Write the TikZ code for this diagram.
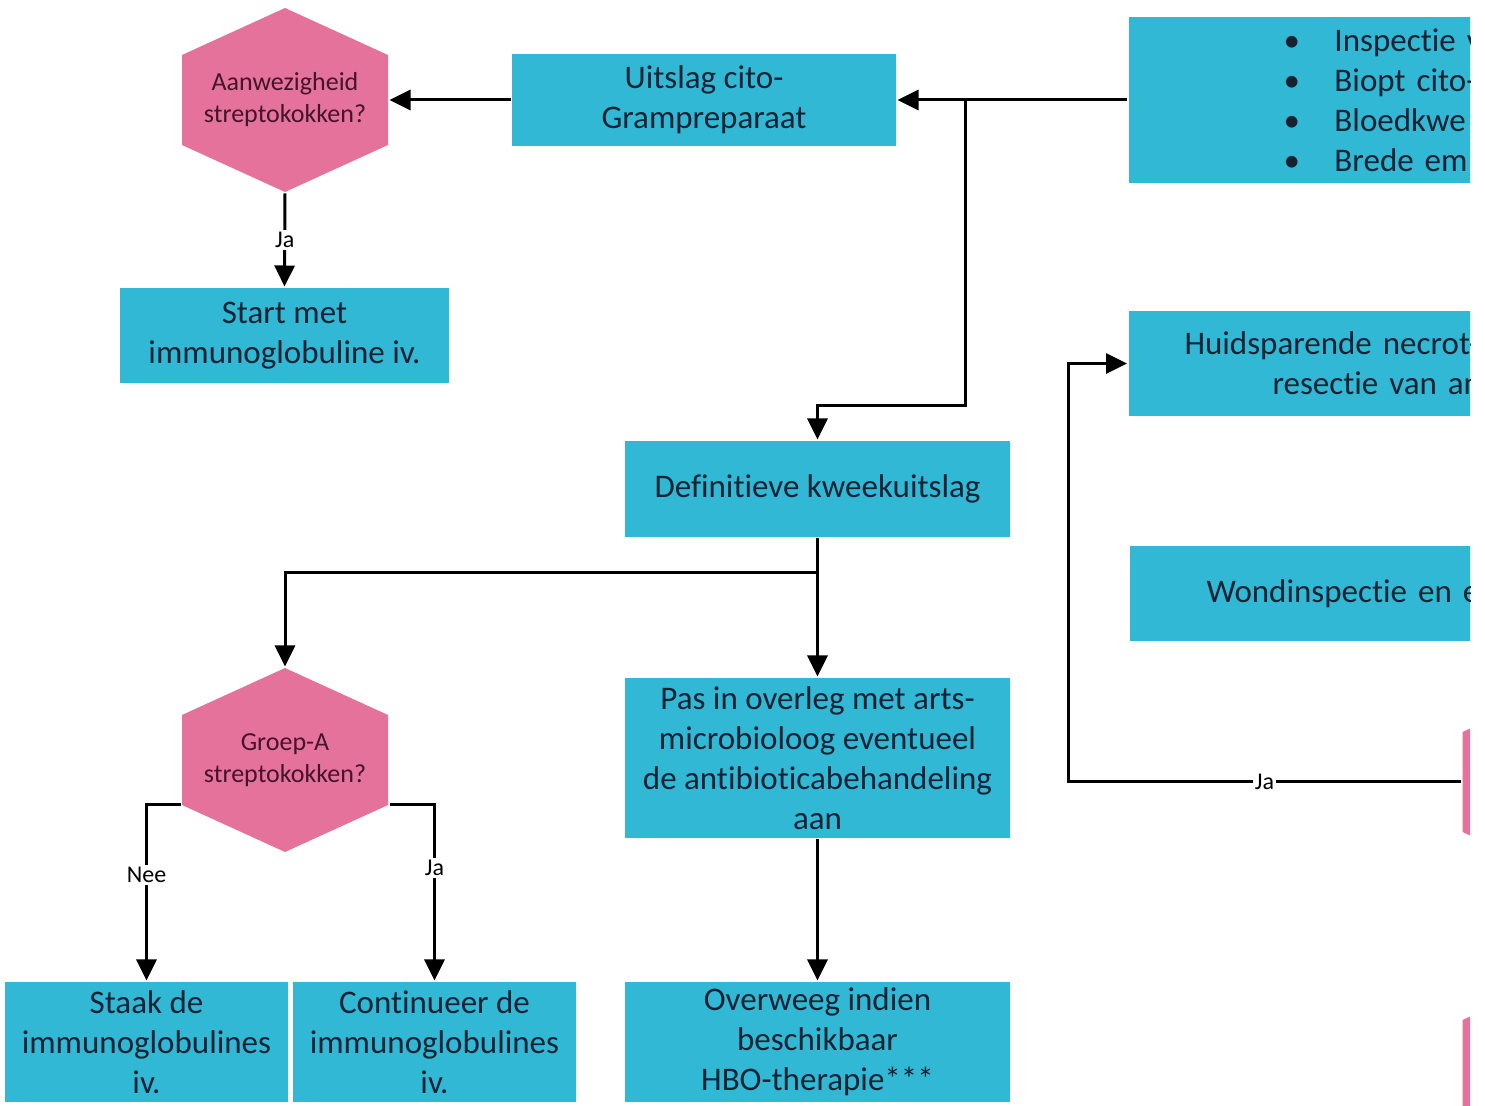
\documentclass[tikz,border=0pt]{standalone}
\usepackage{fontspec}
\setmainfont{Carlito}[Ligatures=NoCommon]
\usetikzlibrary{arrows.meta}
\definecolor{cyaan}{RGB}{49,184,212}
\definecolor{roze}{RGB}{229,114,155}
\definecolor{boxtekst}{RGB}{20,34,52}
\definecolor{hextekst}{RGB}{68,20,40}

\begin{document}
\begin{tikzpicture}[x=0.5pt,y=-0.5pt,>={Triangle[length=10.5pt,width=10pt]},line width=1.5pt]

	\tikzstyle{stap}=[rectangle,fill=cyaan,text=boxtekst,align=center,inner sep=0pt,font=\fontsize{16.5}{20}\selectfont]
	\tikzstyle{stapclip}=[stap,anchor=west,align=left,text width=260pt]
	\tikzstyle{keuze}=[rectangle,inner sep=0pt,minimum width=103pt,minimum height=92pt,align=center,text=hextekst,font=\fontsize{13}{16}\selectfont,
		path picture={\fill[roze] (path picture bounding box.north) -- ([yshift=-23.5pt]path picture bounding box.north east) -- ([yshift=23.5pt]path picture bounding box.south east) -- (path picture bounding box.south) -- ([yshift=23.5pt]path picture bounding box.south west) -- ([yshift=-23.5pt]path picture bounding box.north west) -- cycle;}]
	\tikzstyle{lbl}=[fill=white,inner sep=1pt,text=black,font=\fontsize{12}{14}\selectfont]

	\useasboundingbox (0,0) rectangle (1485,1106);

	\node[keuze] (aanw) at (285,100) {Aanwezigheid\\streptokokken?};
	\node[stap,minimum width=192pt,minimum height=46pt] (uitslag) at (704,100) {Uitslag cito-\\Grampreparaat};
	\node[stap,minimum width=164.5pt,minimum height=47.5pt] (start) at (284.5,335.5) {Start met\\immunoglobuline iv.};

	\node[stap,minimum width=192.5pt,minimum height=48pt] (kweek) at (817.5,489) {Definitieve kweekuitslag};
	\node[keuze] (groepA) at (285,760) {Groep-A\\streptokokken?};
	\node[stap,minimum width=192.5pt,minimum height=80pt] (pas) at (817.5,758) {Pas in overleg met arts-\\microbioloog eventueel\\de antibioticabehandeling\\aan};

	\node[stap,minimum width=141.5pt,minimum height=60pt] (staak) at (146.5,1042) {Staak de\\immunoglobulines\\iv.};
	\node[stap,minimum width=141.5pt,minimum height=60pt] (cont) at (434.5,1042) {Continueer de\\immunoglobulines\\iv.};
	\node[stap,minimum width=192.5pt,minimum height=60pt] (overweeg) at (817.5,1042) {Overweeg indien\\beschikbaar\\HBO-therapie***};

	% rechterkolom, afgesneden aan de rand
	\begin{scope}
	\clip (0,0) rectangle (1470,1106);
	\node[stapclip,inner xsep=77.5pt,minimum height=83pt] (bullets) at (1127,100)
		{\makebox[25.5pt][l]{\textbullet}Inspectie v\\\makebox[25.5pt][l]{\textbullet}Biopt cito-\\\makebox[25.5pt][l]{\textbullet}Bloedkwe\\\makebox[25.5pt][l]{\textbullet}Brede em};
	\node[stapclip,inner xsep=28pt,minimum height=52.5pt] (huid) at (1127,363.5) {Huidsparende necrot-\\\hspace*{44pt}resectie van an};
	\node[stapclip,inner xsep=38.5pt,minimum height=47.5pt] (wond) at (1128,593.5) {Wondinspectie en e};
	\node[keuze,anchor=west,minimum height=97pt] (rozeA) at (1461,782) {};
	\node[keuze,anchor=west,minimum height=97pt] (rozeB) at (1461,1070) {};
	\end{scope}

	\coordinate (splits) at (965,100);
	\coordinate (knik) at (965,406);
	\coordinate (vork) at (818,573);
	\coordinate (jaknik) at (1068,782);

	\draw[->] (bullets.west) -- (uitslag.east);
	\draw[->] (uitslag.west) -- (aanw.east);
	\draw[->] (aanw.south) -- (start.north) node[midway,lbl] {Ja};
	\draw[->] (splits) -- (knik) -| (kweek.north);

	\draw[->] (kweek.south) -- (pas.north);
	\draw[->] (vork) -| (groepA.north);
	\draw[->] ([yshift=-22.5pt]groepA.west) -| (staak.north) node[pos=0.7,lbl] {Nee};
	\draw[->] ([yshift=-22.5pt]groepA.east) -| (cont.north) node[pos=0.68,lbl] {Ja};
	\draw[->] (pas.south) -- (overweeg.north);

	\draw[->] (rozeA.west) -- (jaknik) node[midway,lbl] {Ja} |- (huid.west);

\end{tikzpicture}
\end{document}
